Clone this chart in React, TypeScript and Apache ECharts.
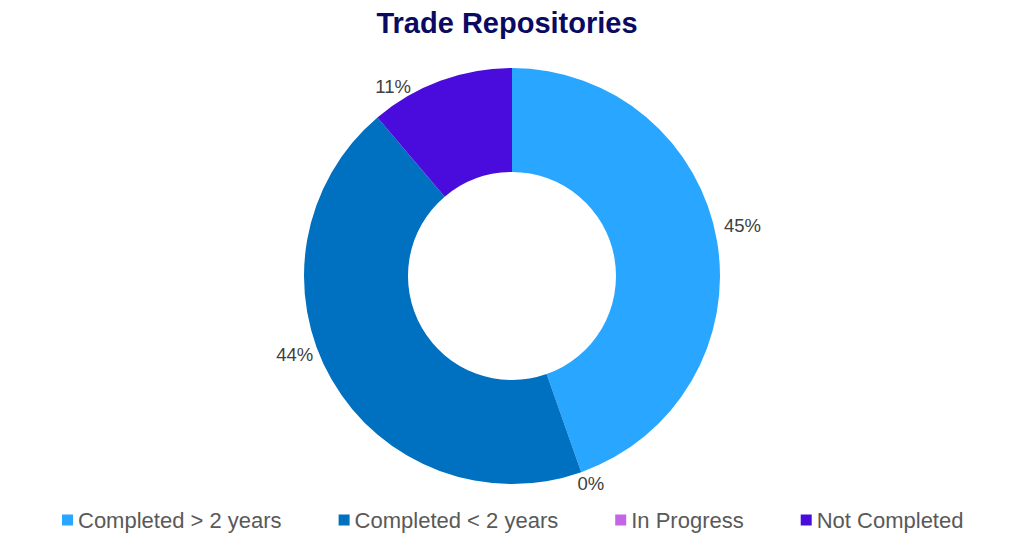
import React, { useEffect, useRef } from "react";
import * as echarts from "echarts";

const titleText = "Trade Repositories";
// drawing order (clockwise from top)
const categories = ["Completed > 2 years", "In Progress", "Completed < 2 years", "Not Completed"];
const values = [44.6, 0, 44.2, 11.2];
const legendOrder = ["Completed > 2 years", "Completed < 2 years", "In Progress", "Not Completed"];
const colors: Record<string, string> = {
  "Completed > 2 years": "#29a6ff",
  "Completed < 2 years": "#0070c0",
  "In Progress": "#c266e6",
  "Not Completed": "#4a0cdc",
};
// small label nudges (px) to mimic the original label placement
const labelNudge: Record<string, [number, number]> = {
  "Completed > 2 years": [-2, -15],
  "In Progress": [-10, 8],
  "Completed < 2 years": [-10, -27],
  "Not Completed": [-23, 10],
};

export default function App() {
  const ref = useRef<HTMLDivElement>(null);
  useEffect(() => {
    if (!ref.current) return;
    const chart = echarts.init(ref.current, undefined, { renderer: "svg" });
    chart.setOption({
      animation: false,
      textStyle: { fontFamily: "Liberation Sans" },
      title: {
        text: titleText,
        left: "center",
        top: 0,
        padding: 0,
        textStyle: { fontSize: 29, fontWeight: "bold", color: "#0a0a62", fontFamily: "Liberation Sans" },
      },
      legend: {
        data: legendOrder,
        top: 501,
        left: 54,
        itemWidth: 11,
        itemHeight: 11,
        itemGap: 57,
        icon: "rect",
        padding: 0,
        textStyle: { fontSize: 22, color: "#595959", fontFamily: "Liberation Sans" },
      },
      series: [
        {
          type: "pie",
          center: [504, 268],
          radius: [104, 208],
          startAngle: 90,
          clockwise: true,
          percentPrecision: 0,
          avoidLabelOverlap: false,
          data: categories.map((c, i) => ({ name: c, value: values[i], itemStyle: { color: colors[c] } })),
          label: {
            show: true,
            position: "outside",
            formatter: "{d}%",
            fontSize: 18.5,
            color: "#404040",
            fontFamily: "Liberation Sans",
          },
          labelLine: { show: false, length: 4, length2: 0 },
          labelLayout: (p: any) => {
            const n = labelNudge[categories[p.dataIndex]] || [0, 0];
            return { dx: n[0], dy: n[1] };
          },
          emphasis: { disabled: true },
        },
      ],
    });
    return () => chart.dispose();
  }, []);
  return <div ref={ref} style={{ width: 998, height: 537 }} />;
}
